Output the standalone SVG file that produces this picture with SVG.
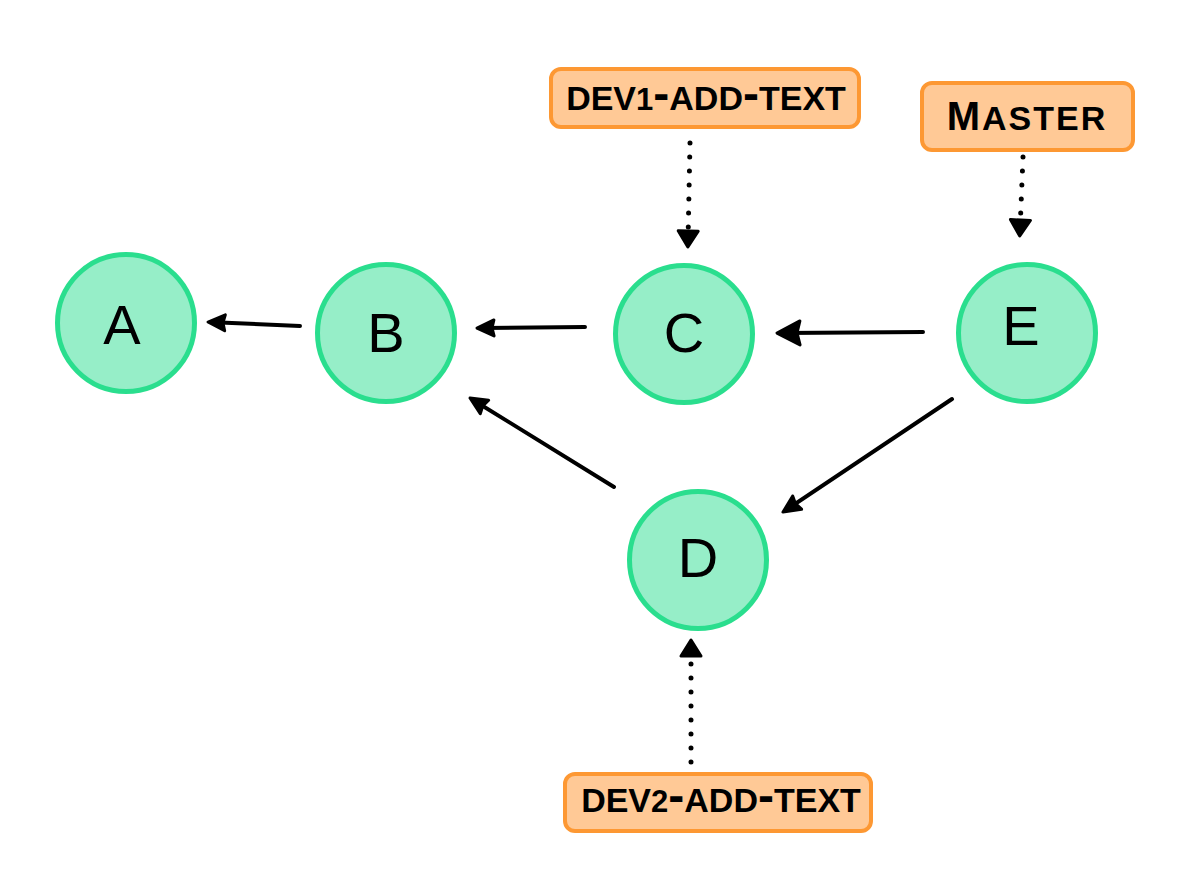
<svg xmlns="http://www.w3.org/2000/svg" width="1200" height="885" viewBox="0 0 1200 885">
<style>
.commit circle{fill:#96eec8;stroke:#2ade8e;stroke-width:5}
.commit text{font-family:"Liberation Sans",Arial,sans-serif;font-size:56px;fill:#000;text-anchor:middle}
.branch rect{fill:#ffc996;stroke:#fd9833;stroke-width:4}
.branch text{font-family:"Liberation Sans",Arial,sans-serif;font-size:48px;font-weight:bold;font-variant:small-caps;fill:#000;text-anchor:middle}
.branch .num{font-size:31px}
.branch .cap{font-size:40px}
.edge{fill:none;stroke:#000;stroke-width:4;stroke-linecap:round;stroke-linejoin:round}
.solid{marker-end:url(#ah)}
.big{marker-end:url(#ahBig)}
.dotted{stroke-width:5;stroke-dasharray:0 14;marker-end:url(#ahDot)}
</style>
<defs>
<marker id="ah" markerUnits="userSpaceOnUse" viewBox="-22 -12 26 24" refX="-6" refY="0" markerWidth="26" markerHeight="24" orient="auto">
<path d="M0,0 L-17,-8 L-15,0 L-17,8 Z" fill="#000" stroke="#000" stroke-width="3" stroke-linejoin="round"/>
</marker>
<marker id="ahBig" markerUnits="userSpaceOnUse" viewBox="-30 -16 34 32" refX="-6" refY="0" markerWidth="34" markerHeight="32" orient="auto">
<path d="M0,0 L-23,-12 L-20,0 L-23,12 Z" fill="#000" stroke="#000" stroke-width="3" stroke-linejoin="round"/>
</marker>
<marker id="ahDot" markerUnits="userSpaceOnUse" viewBox="-24 -14 28 28" refX="-6" refY="0" markerWidth="28" markerHeight="28" orient="auto">
<path d="M0,0 L-16,-10 L-16,10 Z" fill="#000" stroke="#000" stroke-width="3" stroke-linejoin="round"/>
</marker>
</defs>
<rect width="1200" height="885" fill="#fff"/>
<g id="connectors">
<path class="edge solid" d="M300,326 L214,322.3"/>
<path class="edge solid" d="M585,327 L483,328"/>
<path class="edge big" d="M923,332 L783,333"/>
<path class="edge solid" d="M614,487 L475.1,401.2"/>
<path class="edge solid" d="M952,399 L788,508.7"/>
<path class="edge dotted" d="M690,143 L688,241"/>
<path class="edge dotted" d="M1023,157 L1020,230"/>
<path class="edge dotted" d="M691,762 L691,646"/>
</g>
<g id="A" class="commit"><circle cx="126" cy="323" r="68.5"/><text x="122" y="344">A</text></g>
<g id="B" class="commit"><circle cx="386" cy="333" r="68.5"/><text x="386" y="352">B</text></g>
<g id="C" class="commit"><circle cx="684" cy="334" r="68.5"/><text x="684" y="352">C</text></g>
<g id="D" class="commit"><circle cx="698" cy="560" r="68.5"/><text x="698" y="577">D</text></g>
<g id="E" class="commit"><circle cx="1027" cy="333" r="68.5"/><text x="1021" y="345">E</text></g>
<g id="dev1-add-text" class="branch"><rect x="551" y="69" width="308" height="58" rx="10"/><text x="706" y="110">dev<tspan class="num">1</tspan>-add-text</text></g>
<g id="master" class="branch"><rect x="922" y="83" width="211" height="67" rx="10"/><text x="1027" y="130" letter-spacing="2"><tspan class="cap">M</tspan>aster</text></g>
<g id="dev2-add-text" class="branch"><rect x="565" y="774" width="306" height="57" rx="10"/><text x="721" y="812">dev<tspan class="num">2</tspan>-add-text</text></g>
</svg>
